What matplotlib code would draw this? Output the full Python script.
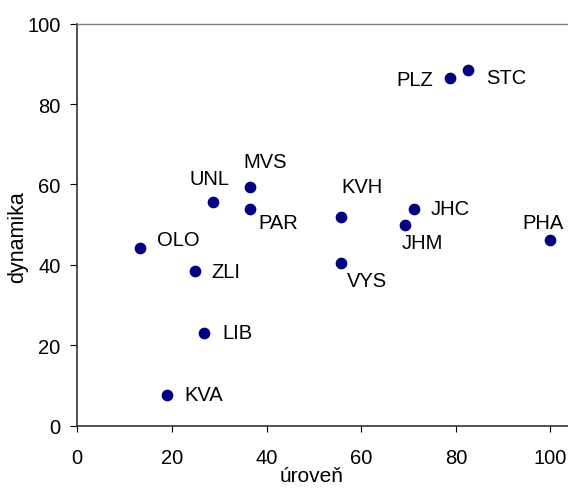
import matplotlib
matplotlib.use("Agg")
import matplotlib.pyplot as plt

plt.rcParams["font.family"] = ["Liberation Sans", "DejaVu Sans"]

## data
kraje = ["PLZ", "STC", "MVS", "UNL", "PAR", "KVH", "JHC", "JHM",
         "PHA", "OLO", "ZLI", "VYS", "LIB", "KVA"]
uroven = [78.8, 82.6, 36.4, 28.7, 36.4, 55.7, 71.1, 69.2,
          100.0, 13.2, 24.8, 55.7, 26.8, 19.0]
dynamika = [86.5, 88.5, 59.5, 55.7, 53.8, 51.9, 53.8, 50.0,
            46.1, 44.2, 38.4, 40.4, 23.1, 7.7]

## label placement (offset in pixels, horizontal alignment)
offsets = {
    "PLZ": (-17, -2, "right"),
    "STC": (18, -8, "left"),
    "MVS": (16, 25, "center"),
    "UNL": (-4, 23, "center"),
    "PAR": (29, -13, "center"),
    "KVH": (21, 31, "center"),
    "JHC": (17, 1, "left"),
    "JHM": (18, -18, "center"),
    "PHA": (-7, 18, "center"),
    "OLO": (39, 9, "center"),
    "ZLI": (17, 0, "left"),
    "VYS": (26, -17, "center"),
    "LIB": (18, 0, "left"),
    "KVA": (17, 0, "left"),
}

fig = plt.figure(figsize=(5.68, 4.89), dpi=100)
ax = fig.add_axes([0.1361, 0.1274, 0.8639, 0.8221])

ax.scatter(uroven, dynamika, s=55, color="#000080", zorder=3, clip_on=False)

for k, x, y in zip(kraje, uroven, dynamika):
    dx, dy, ha = offsets[k]
    ax.annotate(k, (x, y), xytext=(dx, dy), textcoords="offset pixels",
                ha=ha, va="center", fontsize=14.5, color="black")

ax.set_xlim(0, 103.7)
ax.set_ylim(0, 100)
ax.set_xticks(range(0, 101, 20))
ax.set_yticks(range(0, 101, 20))

ax.tick_params(axis="x", direction="out", length=4.5, width=0.8,
               labelsize=14.5, pad=11.5, colors="black")
ax.tick_params(axis="y", direction="out", length=5, width=0.8,
               labelsize=14.5, pad=7, colors="black")

ax.spines["right"].set_visible(False)
ax.spines["top"].set_color("#808080")
ax.spines["top"].set_linewidth(1.0)
ax.spines["left"].set_color("#333333")
ax.spines["left"].set_linewidth(1.2)
ax.spines["bottom"].set_color("#333333")
ax.spines["bottom"].set_linewidth(1.2)

ax.set_xlabel("úroveň", fontsize=15)
ax.set_ylabel("dynamika", fontsize=15.5)
ax.xaxis.set_label_coords(0.477, -0.1)
ax.yaxis.set_label_coords(-0.1, 0.472)

fig.savefig("out.png", dpi=100)
